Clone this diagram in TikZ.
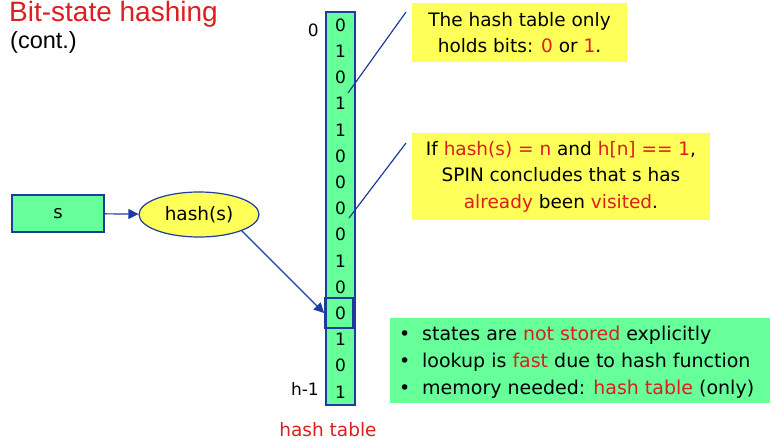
\documentclass[tikz,border=0pt]{standalone}
\usepackage{fontspec}
\setmainfont{DejaVu Sans}
\newfontfamily\titlefont{Liberation Sans}
\usetikzlibrary{shapes.geometric,arrows.meta}
\definecolor{bitgreen}{RGB}{102,255,153}
\definecolor{edgeblue}{RGB}{30,60,160}
\definecolor{noteyellow}{RGB}{255,255,90}
\definecolor{hlred}{RGB}{220,30,30}
\newcommand{\hl}[1]{\textcolor{hlred}{#1}}
\begin{document}
\begin{tikzpicture}[x=1pt,y=-1pt,
  cell/.style={inner sep=0pt, minimum width=29pt, minimum height=26.2pt, font=\fontsize{17}{17}\selectfont},
  bluebox/.style={draw=edgeblue, line width=1.2pt, fill=bitgreen, inner sep=0pt},
  note/.style={fill=noteyellow, inner sep=0pt, align=center, font=\fontsize{18.5}{26.5}\selectfont},
  link/.style={draw=edgeblue, line width=1.2pt},
  arrowlink/.style={draw=edgeblue, line width=1.2pt, -{Triangle[length=10pt,width=10pt]}}]
\useasboundingbox (0,0) rectangle (771,442);
% title
\node[anchor=base west, inner sep=0pt, text=hlred, font=\titlefont\fontsize{28}{28}\selectfont] (title) at (9,21) {Bit-state hashing};
\node[anchor=base west, inner sep=0pt, font=\titlefont\fontsize{23.5}{23.5}\selectfont] (cont) at (10,48) {(cont.)};
% hash table column
\node[bluebox, minimum width=29pt, minimum height=393pt] (col) at (340.5,208.5) {};
\foreach \b [count=\i from 0] in {0,1,0,1,1,0,0,0,0,1,0,0,1,0,1}
  \node[cell] (c\i) at (340.5,{25.1+26.2*\i}) {\b};
\node[draw=edgeblue, line width=1.8pt, minimum width=28pt, minimum height=30pt, inner sep=0pt] (hit) at (339,313) {};
\node[anchor=east, inner sep=0pt, font=\fontsize{17}{17}\selectfont] (zero) at (319,30) {0};
\node[anchor=east, inner sep=0pt, font=\fontsize{17}{17}\selectfont] (hm1) at (319,389) {h-1};
\node[anchor=base, inner sep=0pt, text=hlred, font=\fontsize{18.5}{18.5}\selectfont] (htlabel) at (328,436) {hash table};
% state and hash function
\node[bluebox, minimum width=92pt, minimum height=37pt, font=\fontsize{18}{18}\selectfont] (s) at (58,213.5) {s};
\node[ellipse, draw=edgeblue, line width=1.2pt, fill=noteyellow, minimum width=120pt, minimum height=45pt, inner sep=0pt, font=\fontsize{18.5}{18.5}\selectfont] (h) at (199,214.5) {hash(s)};
\draw[arrowlink] (s) -- (h);
\draw[arrowlink] (h.south east) -- (hit.west);
% callouts
\node[note, minimum width=215pt, minimum height=59pt] (n1) at (519.5,32.5) {The hash table only\\holds bits: \hl{0} or \hl{1}.};
\node[note, minimum width=298pt, minimum height=87pt] (n2) at (561,176.5) {If \hl{hash(s) = n} and \hl{h[n] == 1},\\SPIN concludes that s has\\\hl{already} been \hl{visited}.};
\coordinate (p1) at (348,93);
\coordinate (q1) at (406,12);
\coordinate (p2) at (349,218);
\coordinate (q2) at (406,143);
\draw[link] (p1) -- (q1);
\draw[link] (p2) -- (q2);
% summary box
\node[fill=bitgreen, minimum width=380pt, minimum height=85pt, inner sep=0pt] (sum) at (580,360.5) {};
\node[anchor=west, inner sep=0pt, align=left, font=\fontsize{19}{27}\selectfont] (sumtext) at (399,362.5)
 {\makebox[23pt][l]{•}states are \hl{not stored} explicitly\\
  \makebox[23pt][l]{•}lookup is \hl{fast} due to hash function\\
  \makebox[23pt][l]{•}memory needed: \hl{hash table} (only)};
\end{tikzpicture}
\end{document}
